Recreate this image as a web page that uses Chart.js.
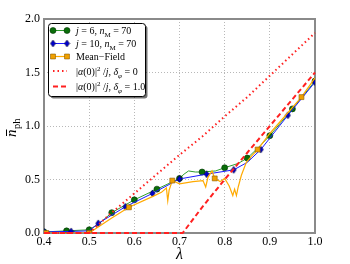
<!DOCTYPE html>
<html>
<head>
<meta charset="utf-8">
<script src="https://cdn.jsdelivr.net/npm/chart.js@4"></script>
<style>
  html, body { margin: 0; padding: 0; background: #fff; }
</style>
</head>
<body>
<canvas id="chart" width="350" height="264"></canvas>
<script>
// tick labels
const xTicks = [0.4, 0.5, 0.6, 0.7, 0.8, 0.9, 1.0];
const yTicks = [0.0, 0.5, 1.0, 1.5, 2.0];

// j = 6, n_M = 70
const lambdaJ6 = [0.40, 0.45, 0.50, 0.52, 0.55, 0.60, 0.65, 0.70, 0.71, 0.72, 0.735, 0.75, 0.78, 0.80, 0.83, 0.85, 0.875, 0.90, 0.95, 1.00];
const nphJ6    = [0.01, 0.02, 0.03, 0.08, 0.19, 0.31, 0.41, 0.51, 0.55, 0.58, 0.57,  0.57, 0.58, 0.61, 0.65, 0.70, 0.80,  0.91, 1.16, 1.42];
const marksJ6  = [0.40, 0.45, 0.50, 0.55, 0.60, 0.65, 0.70, 0.75, 0.80, 0.85, 0.90, 0.95, 1.00];

// j = 10, n_M = 70
const lambdaJ10 = [0.40, 0.46, 0.50, 0.52, 0.58, 0.64, 0.70, 0.76, 0.82, 0.85, 0.88, 0.94, 1.00];
const nphJ10    = [0.01, 0.015, 0.02, 0.09, 0.245, 0.37, 0.505, 0.55, 0.59, 0.66, 0.78, 1.10, 1.41];
const marksJ10  = [0.40, 0.46, 0.52, 0.58, 0.64, 0.70, 0.76, 0.82, 0.88, 0.94, 1.00];

// mean-field
const lambdaMF = [0.40, 0.405, 0.45, 0.50, 0.55, 0.588, 0.64, 0.66, 0.671, 0.674, 0.677, 0.684, 0.70, 0.73, 0.752, 0.758, 0.763, 0.772, 0.778, 0.79, 0.80, 0.81, 0.818, 0.822, 0.826, 0.83, 0.837, 0.848, 0.86, 0.873, 0.90, 0.97, 1.00];
const nphMF    = [0.00, 0.00,  0.00, 0.00, 0.14, 0.24,  0.34, 0.38, 0.42,  0.30,  0.40,  0.49,  0.46, 0.48, 0.49,  0.43,  0.52,  0.58,  0.51,  0.48, 0.51, 0.44, 0.35,  0.41,  0.35,  0.43, 0.54,  0.66,  0.72, 0.78,  0.93, 1.27, 1.45];
const marksMF  = [0.405, 0.50, 0.588, 0.684, 0.778, 0.873, 0.97];

// |alpha(0)|^2 / j, delta_phi = 0
const lambdaD0 = [0.40, 0.50, 0.55, 0.60, 0.65, 0.70, 0.75, 0.80, 0.85, 0.90, 0.95, 1.00];
const alphaD0  = [0.00, 0.00, 0.19, 0.37, 0.55, 0.73, 0.90, 1.09, 1.27, 1.47, 1.67, 1.87];

// |alpha(0)|^2 / j, delta_phi = 1.0
const lambdaD1 = [0.40, 0.707, 0.75, 0.80, 0.85, 0.90, 0.95, 1.00];
const alphaD1  = [0.00, 0.00,  0.24, 0.50, 0.75, 1.00, 1.25, 1.50];

const serif = '"Liberation Serif", "DejaVu Serif", serif';

const legendLabels = [
  [{ t: 'j', it: true }, { t: ' = 6, ' }, { t: 'n', it: true }, { t: 'M', sub: true }, { t: ' = 70' }],
  [{ t: 'j', it: true }, { t: ' = 10, ' }, { t: 'n', it: true }, { t: 'M', sub: true }, { t: ' = 70' }],
  [{ t: 'Mean\u2212Field' }],
  [{ t: '|' }, { t: '\u03b1', it: true }, { t: '(0)|' }, { t: '2', sup: true }, { t: ' /' }, { t: 'j', it: true }, { t: ', ' },
   { t: '\u03b4', it: true }, { t: '\u03c6', it: true, sub: true }, { t: ' = 0' }],
  [{ t: '|' }, { t: '\u03b1', it: true }, { t: '(0)|' }, { t: '2', sup: true }, { t: ' /' }, { t: 'j', it: true }, { t: ', ' },
   { t: '\u03b4', it: true }, { t: '\u03c6', it: true, sub: true }, { t: ' = 1.0' }]
];

const toPoints = (xs, ys) => xs.map((x, i) => ({ x: x, y: ys[i] }));
const isMarked = (marks) => (ctx) => ctx.raw && marks.some(m => Math.abs(m - ctx.raw.x) < 1e-6);

function thinDiamond(w, h, fill, stroke) {
  const c = document.createElement('canvas');
  c.width = w + 2;
  c.height = h + 2;
  const g = c.getContext('2d');
  g.beginPath();
  g.moveTo(c.width / 2, 1);
  g.lineTo(c.width - 1, c.height / 2);
  g.lineTo(c.width / 2, c.height - 1);
  g.lineTo(1, c.height / 2);
  g.closePath();
  g.fillStyle = fill;
  g.fill();
  g.lineWidth = 0.6;
  g.strokeStyle = stroke;
  g.stroke();
  return c;
}
const diamond = thinDiamond(5, 7, '#0000cc', '#000033');

function drawRich(ctx, runs, x, y, size) {
  for (const r of runs) {
    const fs = (r.sub || r.sup) ? size * 0.7 : size;
    ctx.font = (r.it ? 'italic ' : '') + fs + 'px ' + serif;
    const dy = r.sub ? size * 0.3 : r.sup ? -size * 0.4 : 0;
    ctx.fillText(r.t, x, y + dy);
    x += ctx.measureText(r.t).width;
  }
}

// grey frame around the plot area
const framePlugin = {
  id: 'frame',
  beforeDatasetsDraw(chart) {
    const { ctx, chartArea: a } = chart;
    ctx.save();
    ctx.strokeStyle = '#8a8a8a';
    ctx.lineWidth = 2;
    ctx.strokeRect(a.left, a.top, a.right - a.left, a.bottom - a.top);
    ctx.restore();
  }
};

// y axis title with bar and subscript
const yTitlePlugin = {
  id: 'ytitle',
  afterDraw(chart) {
    const ctx = chart.ctx;
    ctx.save();
    ctx.translate(16, 137);
    ctx.rotate(-Math.PI / 2);
    ctx.fillStyle = '#000';
    ctx.textBaseline = 'alphabetic';
    ctx.font = 'italic 15px ' + serif;
    ctx.fillText('n', 0, 0);
    const nw = ctx.measureText('n').width;
    ctx.fillRect(1, -10, nw - 1, 1);
    ctx.font = '10.5px ' + serif;
    ctx.fillText('ph', nw + 0.5, 3.5);
    ctx.restore();
  }
};

// legend with shadow, markers and math-style labels
const legendPlugin = {
  id: 'mathLegend',
  afterDraw(chart) {
    const ctx = chart.ctx;
    const box = { x: 48.5, y: 23.5, w: 97, h: 73 };
    const rowsY = [30.5, 43.5, 56.5, 71, 86.5];
    ctx.save();
    ctx.fillStyle = 'rgba(0,0,0,0.55)';
    ctx.beginPath();
    ctx.roundRect(box.x + 2, box.y + 2, box.w, box.h, 3);
    ctx.fill();
    ctx.fillStyle = '#fff';
    ctx.strokeStyle = '#000';
    ctx.lineWidth = 1;
    ctx.beginPath();
    ctx.roundRect(box.x, box.y, box.w, box.h, 3);
    ctx.fill();
    ctx.stroke();

    const x0 = 53, x1 = 67;
    chart.data.datasets.forEach((ds, i) => {
      const y = rowsY[i];
      ctx.save();
      ctx.strokeStyle = ds.borderColor;
      ctx.lineWidth = ds.borderWidth;
      ctx.setLineDash(ds.borderDash || []);
      ctx.beginPath();
      ctx.moveTo(x0, y);
      ctx.lineTo(x1, y);
      ctx.stroke();
      ctx.restore();
      if (ds.legendMarker) {
        for (const mx of [x0, x1]) {
          ctx.save();
          ctx.fillStyle = ds.backgroundColor;
          ctx.strokeStyle = ds.pointBorderColor || ds.backgroundColor;
          ctx.lineWidth = 0.6;
          Chart.helpers.drawPoint(ctx, {
            pointStyle: ds.legendMarker,
            radius: ds.legendRadius,
            borderWidth: 0.6
          }, mx, y);
          ctx.restore();
        }
      }
      ctx.fillStyle = '#000';
      ctx.textBaseline = 'alphabetic';
      drawRich(ctx, legendLabels[i], 76, y + 3.5, 10);
    });
    ctx.restore();
  }
};

function fixedTicks(values) {
  return (scale) => { scale.ticks = values.map(v => ({ value: v })); };
}

new Chart(document.getElementById('chart'), {
  type: 'line',
  data: {
    datasets: [
      {
        label: 'j=6, n_M=70',
        data: toPoints(lambdaJ6, nphJ6),
        borderColor: '#2e9e2e',
        borderWidth: 1,
        backgroundColor: '#0a6e0a',
        pointBorderColor: '#003300',
        pointBorderWidth: 0.6,
        pointStyle: 'circle',
        pointRadius: (ctx) => isMarked(marksJ6)(ctx) ? 3 : 0,
        legendMarker: 'circle',
        legendRadius: 3,
        order: 5
      },
      {
        label: 'j=10, n_M=70',
        data: toPoints(lambdaJ10, nphJ10),
        borderColor: '#1a1aff',
        borderWidth: 1,
        backgroundColor: '#0000cc',
        pointStyle: diamond,
        pointRadius: (ctx) => isMarked(marksJ10)(ctx) ? 3 : 0,
        legendMarker: diamond,
        legendRadius: 3,
        order: 4
      },
      {
        label: 'Mean-Field',
        data: toPoints(lambdaMF, nphMF),
        borderColor: '#ffaa00',
        borderWidth: 1.2,
        backgroundColor: '#f0a000',
        pointBorderColor: '#8a5a00',
        pointBorderWidth: 0.6,
        pointStyle: 'rect',
        pointRadius: (ctx) => isMarked(marksMF)(ctx) ? 3.5 : 0,
        legendMarker: 'rect',
        legendRadius: 3.5,
        order: 3
      },
      {
        label: '|a(0)|^2/j, d=0',
        data: toPoints(lambdaD0, alphaD0),
        borderColor: '#ff2020',
        borderWidth: 2,
        borderDash: [1.5, 3],
        pointRadius: 0,
        clip: false,
        order: 2
      },
      {
        label: '|a(0)|^2/j, d=1.0',
        data: toPoints(lambdaD1, alphaD1),
        borderColor: '#ff2020',
        borderWidth: 2,
        borderDash: [5, 3],
        pointRadius: 0,
        clip: false,
        order: 1
      }
    ]
  },
  options: {
    responsive: false,
    animation: false,
    layout: { padding: { top: 19, right: 35, left: 0, bottom: 0 } },
    plugins: {
      legend: { display: false },
      tooltip: { enabled: false }
    },
    scales: {
      x: {
        type: 'linear',
        min: 0.4,
        max: 1.0,
        afterBuildTicks: fixedTicks(xTicks),
        afterFit: (s) => { s.height = 31; },
        ticks: {
          color: '#000',
          font: { family: serif, size: 12 },
          padding: 2,
          maxRotation: 0,
          callback: (v) => v.toFixed(1)
        },
        grid: { color: '#b8b8b8', lineWidth: 1, drawTicks: false },
        border: { display: false, dash: [1, 2] },
        title: {
          display: true,
          text: '\u03bb',
          color: '#000',
          font: { family: serif, size: 16, style: 'italic' },
          padding: { top: 0, bottom: 0 }
        }
      },
      y: {
        type: 'linear',
        min: 0,
        max: 2.0,
        afterBuildTicks: fixedTicks(yTicks),
        afterFit: (s) => { s.width = 44; },
        ticks: {
          color: '#000',
          font: { family: serif, size: 12 },
          padding: 4,
          callback: (v) => v.toFixed(1)
        },
        grid: { color: '#b8b8b8', lineWidth: 1, drawTicks: false },
        border: { display: false, dash: [1, 2] }
      }
    }
  },
  plugins: [framePlugin, legendPlugin, yTitlePlugin]
});
</script>
</body>
</html>
